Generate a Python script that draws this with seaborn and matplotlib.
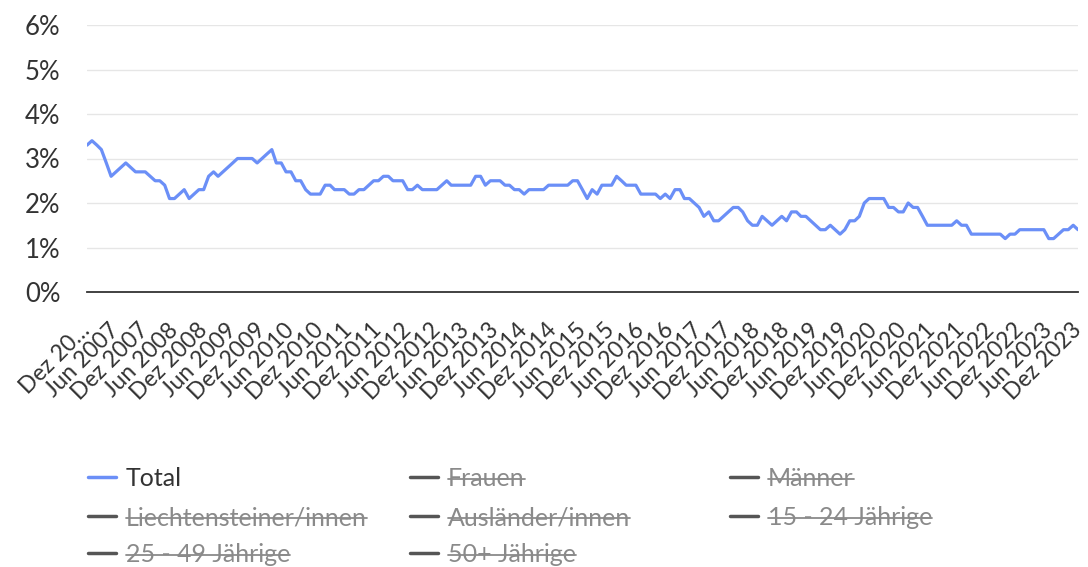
import pandas as pd
import matplotlib.pyplot as plt
import seaborn as sns
from matplotlib.lines import Line2D
import matplotlib.ticker as mticker

# Arbeitslosenquote Total, monatlich Dez 2006 - Dez 2023 (in %)
rate = [
    3.3, 3.4, 3.3, 3.2, 2.9, 2.6, 2.7, 2.8, 2.9, 2.8,
    2.7, 2.7, 2.7, 2.6, 2.5, 2.5, 2.4, 2.1, 2.1, 2.2,
    2.3, 2.1, 2.2, 2.3, 2.3, 2.6, 2.7, 2.6, 2.7, 2.8,
    2.9, 3.0, 3.0, 3.0, 3.0, 2.9, 3.0, 3.1, 3.2, 2.9,
    2.9, 2.7, 2.7, 2.5, 2.5, 2.3, 2.2, 2.2, 2.2, 2.4,
    2.4, 2.3, 2.3, 2.3, 2.2, 2.2, 2.3, 2.3, 2.4, 2.5,
    2.5, 2.6, 2.6, 2.5, 2.5, 2.5, 2.3, 2.3, 2.4, 2.3,
    2.3, 2.3, 2.3, 2.4, 2.5, 2.4, 2.4, 2.4, 2.4, 2.4,
    2.6, 2.6, 2.4, 2.5, 2.5, 2.5, 2.4, 2.4, 2.3, 2.3,
    2.2, 2.3, 2.3, 2.3, 2.3, 2.4, 2.4, 2.4, 2.4, 2.4,
    2.5, 2.5, 2.3, 2.1, 2.3, 2.2, 2.4, 2.4, 2.4, 2.6,
    2.5, 2.4, 2.4, 2.4, 2.2, 2.2, 2.2, 2.2, 2.1, 2.2,
    2.1, 2.3, 2.3, 2.1, 2.1, 2.0, 1.9, 1.7, 1.8, 1.6,
    1.6, 1.7, 1.8, 1.9, 1.9, 1.8, 1.6, 1.5, 1.5, 1.7,
    1.6, 1.5, 1.6, 1.7, 1.6, 1.8, 1.8, 1.7, 1.7, 1.6,
    1.5, 1.4, 1.4, 1.5, 1.4, 1.3, 1.4, 1.6, 1.6, 1.7,
    2.0, 2.1, 2.1, 2.1, 2.1, 1.9, 1.9, 1.8, 1.8, 2.0,
    1.9, 1.9, 1.7, 1.5, 1.5, 1.5, 1.5, 1.5, 1.5, 1.6,
    1.5, 1.5, 1.3, 1.3, 1.3, 1.3, 1.3, 1.3, 1.3, 1.2,
    1.3, 1.3, 1.4, 1.4, 1.4, 1.4, 1.4, 1.4, 1.2, 1.2,
    1.3, 1.4, 1.4, 1.5, 1.4,
]
months = pd.date_range("2006-12-01", periods=len(rate), freq="MS")
df = pd.DataFrame({"monat": months, "quote": rate})

tick_labels = ["Dez 20…"] + [f"{m} {y}" for y in range(2007, 2024) for m in ("Jun", "Dez")]
y_ticks = [0, 1, 2, 3, 4, 5, 6]

# legend rows as shown (only Total is active, the rest are switched off)
legend_rows = [
    ["Total", "Frauen", "Männer"],
    ["Liechtensteiner/innen", "Ausländer/innen", "15 - 24 Jährige"],
    ["25 - 49 Jährige", "50+ Jährige"],
]

BLUE = "#6b8ff7"
DARK = "#333333"
GREY = "#8a8a8a"

sns.set_style("white")
plt.rcParams["font.family"] = ["Lato", "DejaVu Sans"]

W, H = 1088, 567
fig = plt.figure(figsize=(W / 100, H / 100), dpi=100)
ax = fig.add_axes([87 / W, 1 - 292 / H, (1078 - 87) / W, (292 - 25) / H])

sns.lineplot(data=df, x="monat", y="quote", color=BLUE, linewidth=2.3, ax=ax)

ax.set_ylim(0, 6)
ax.set_xlim(months[0], months[-1])
ax.set_yticks(y_ticks)
ax.yaxis.set_major_formatter(mticker.FuncFormatter(lambda v, p: f"{v:.0f}%"))
ax.set_xticks(months[::6])
ax.set_xticklabels(tick_labels, rotation=45, ha="right", va="center",
                   rotation_mode="anchor")
ax.tick_params(axis="y", length=0, pad=19, labelsize=18.5, labelcolor=DARK)
ax.tick_params(axis="x", length=0, pad=25, labelsize=16.5, labelcolor=DARK)
ax.set_xlabel("")
ax.set_ylabel("")
ax.grid(axis="y", color="#e6e6e6", linewidth=1)
ax.grid(axis="x", visible=False)
for s in ["top", "right", "left"]:
    ax.spines[s].set_visible(False)
ax.spines["bottom"].set_color(DARK)
ax.spines["bottom"].set_linewidth(1.3)
ax.spines["bottom"].set_zorder(3)

# legend drawn by hand, fixed column width like the original
col_x = [88, 410, 730]
row_y = [477, 516, 553]
texts = []
for r, row in enumerate(legend_rows):
    for c, label in enumerate(row):
        active = label == "Total"
        x0 = col_x[c]
        yc = row_y[r]
        fig.add_artist(Line2D([x0 / W, (x0 + 28) / W], [1 - yc / H, 1 - yc / H],
                              color=BLUE if active else "#555555", linewidth=2.5,
                              transform=fig.transFigure))
        t = fig.text((x0 + 38) / W, 1 - (yc + 9) / H, label, fontsize=18,
                     color=DARK if active else GREY, va="baseline", ha="left")
        if not active:
            texts.append((t, yc))

# strike through the hidden series
fig.canvas.draw()
renderer = fig.canvas.get_renderer()
for t, yc in texts:
    bb = t.get_window_extent(renderer)
    ys = 1 - (yc + 2) / H
    fig.add_artist(Line2D([bb.x0 / W, bb.x1 / W], [ys, ys], color=GREY,
                          linewidth=1.3, transform=fig.transFigure))

fig.savefig("out.png", dpi=100)
plt.close()
